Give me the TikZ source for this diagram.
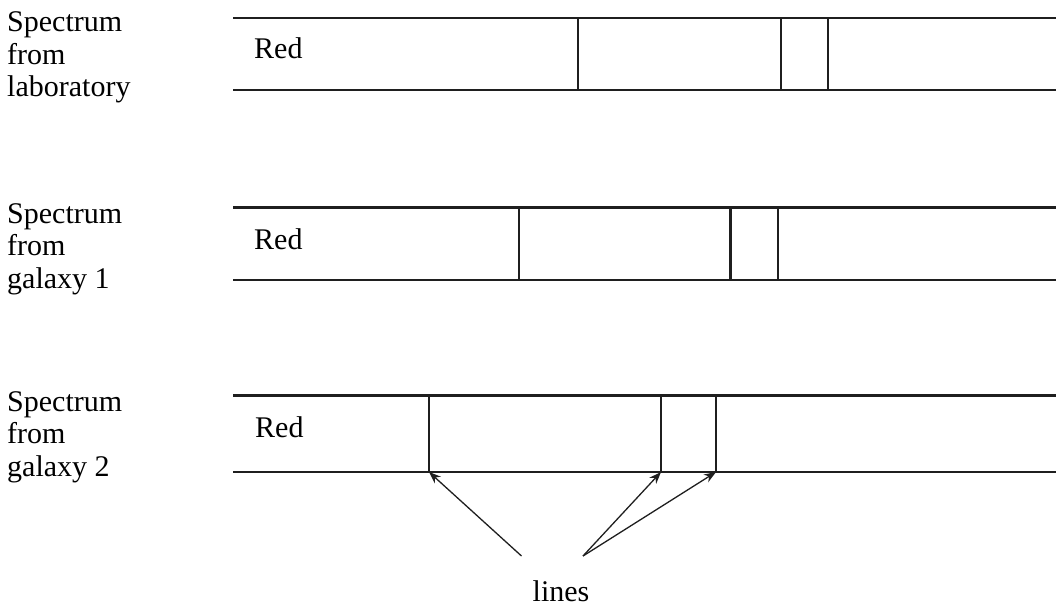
\documentclass[tikz,border=0pt]{standalone}
\usepackage{fontspec}
\setmainfont{Liberation Serif}
\usetikzlibrary{arrows.meta}
\begin{document}
\begin{tikzpicture}[x=1pt,y=-1pt,
  band/.style={line width=2.8pt, draw=black!88},
  specline/.style={line width=2.8pt, draw=black!88},
  lbl/.style={anchor=base west, inner sep=0pt, align=left, font=\fontsize{30}{32.5}\selectfont},
  redlbl/.style={anchor=base west, inner sep=0pt, font=\fontsize{30}{32.5}\selectfont},
  pointer/.style={line width=1.3pt, draw=black!88, -{Stealth[length=12pt,width=9pt]}}]
\useasboundingbox (0,0) rectangle (1056,608);

% labels (base anchor = last line's baseline)
\node[lbl] (l1) at (7,96.7) {Spectrum\\from\\laboratory};
\node[lbl] (l2) at (7,288) {Spectrum\\from\\galaxy 1};
\node[lbl] (l3) at (7,476) {Spectrum\\from\\galaxy 2};

% band 1
\coordinate (b1tl) at (233,18);  \coordinate (b1tr) at (1056,18);
\coordinate (b1bl) at (233,90);  \coordinate (b1br) at (1056,90);
\draw[band] (b1tl) -- (b1tr);
\draw[band] (b1bl) -- (b1br);
\node[redlbl] (r1) at (254,58) {Red};
\coordinate (s1at) at (578,18); \coordinate (s1ab) at (578,90);
\coordinate (s1bt) at (781,18); \coordinate (s1bb) at (781,90);
\coordinate (s1ct) at (828,18); \coordinate (s1cb) at (828,90);
\draw[specline] (s1at) -- (s1ab);
\draw[specline] (s1bt) -- (s1bb);
\draw[specline] (s1ct) -- (s1cb);

% band 2
\coordinate (b2tl) at (233,207.5);  \coordinate (b2tr) at (1056,207.5);
\coordinate (b2bl) at (233,280);  \coordinate (b2br) at (1056,280);
\draw[band] (b2tl) -- (b2tr);
\draw[band] (b2bl) -- (b2br);
\node[redlbl] (r2) at (254,249) {Red};
\coordinate (s2at) at (519,207.5); \coordinate (s2ab) at (519,280);
\coordinate (s2bt) at (730.5,207.5); \coordinate (s2bb) at (730.5,280);
\coordinate (s2ct) at (778,207.5); \coordinate (s2cb) at (778,280);
\draw[specline] (s2at) -- (s2ab);
\draw[specline] (s2bt) -- (s2bb);
\draw[specline] (s2ct) -- (s2cb);

% band 3
\coordinate (b3tl) at (233,395.5);  \coordinate (b3tr) at (1056,395.5);
\coordinate (b3bl) at (233,472);  \coordinate (b3br) at (1056,472);
\draw[band] (b3tl) -- (b3tr);
\draw[band] (b3bl) -- (b3br);
\node[redlbl] (r3) at (255,437) {Red};
\coordinate (s3at) at (429,395.5); \coordinate (s3ab) at (429,472);
\coordinate (s3bt) at (661,395.5); \coordinate (s3bb) at (661,472);
\coordinate (s3ct) at (716,395.5); \coordinate (s3cb) at (716,472);
\draw[specline] (s3at) -- (s3ab);
\draw[specline] (s3bt) -- (s3bb);
\draw[specline] (s3ct) -- (s3cb);

% pointers
\coordinate (p1) at (521.5,556);
\coordinate (p2) at (583,556);
\draw[pointer] (p1) -- (s3ab);
\draw[pointer] (p2) -- (s3bb);
\draw[pointer] (p2) -- (s3cb);
\node[redlbl, anchor=base] (lines) at (561,601) {lines};
\end{tikzpicture}
\end{document}
